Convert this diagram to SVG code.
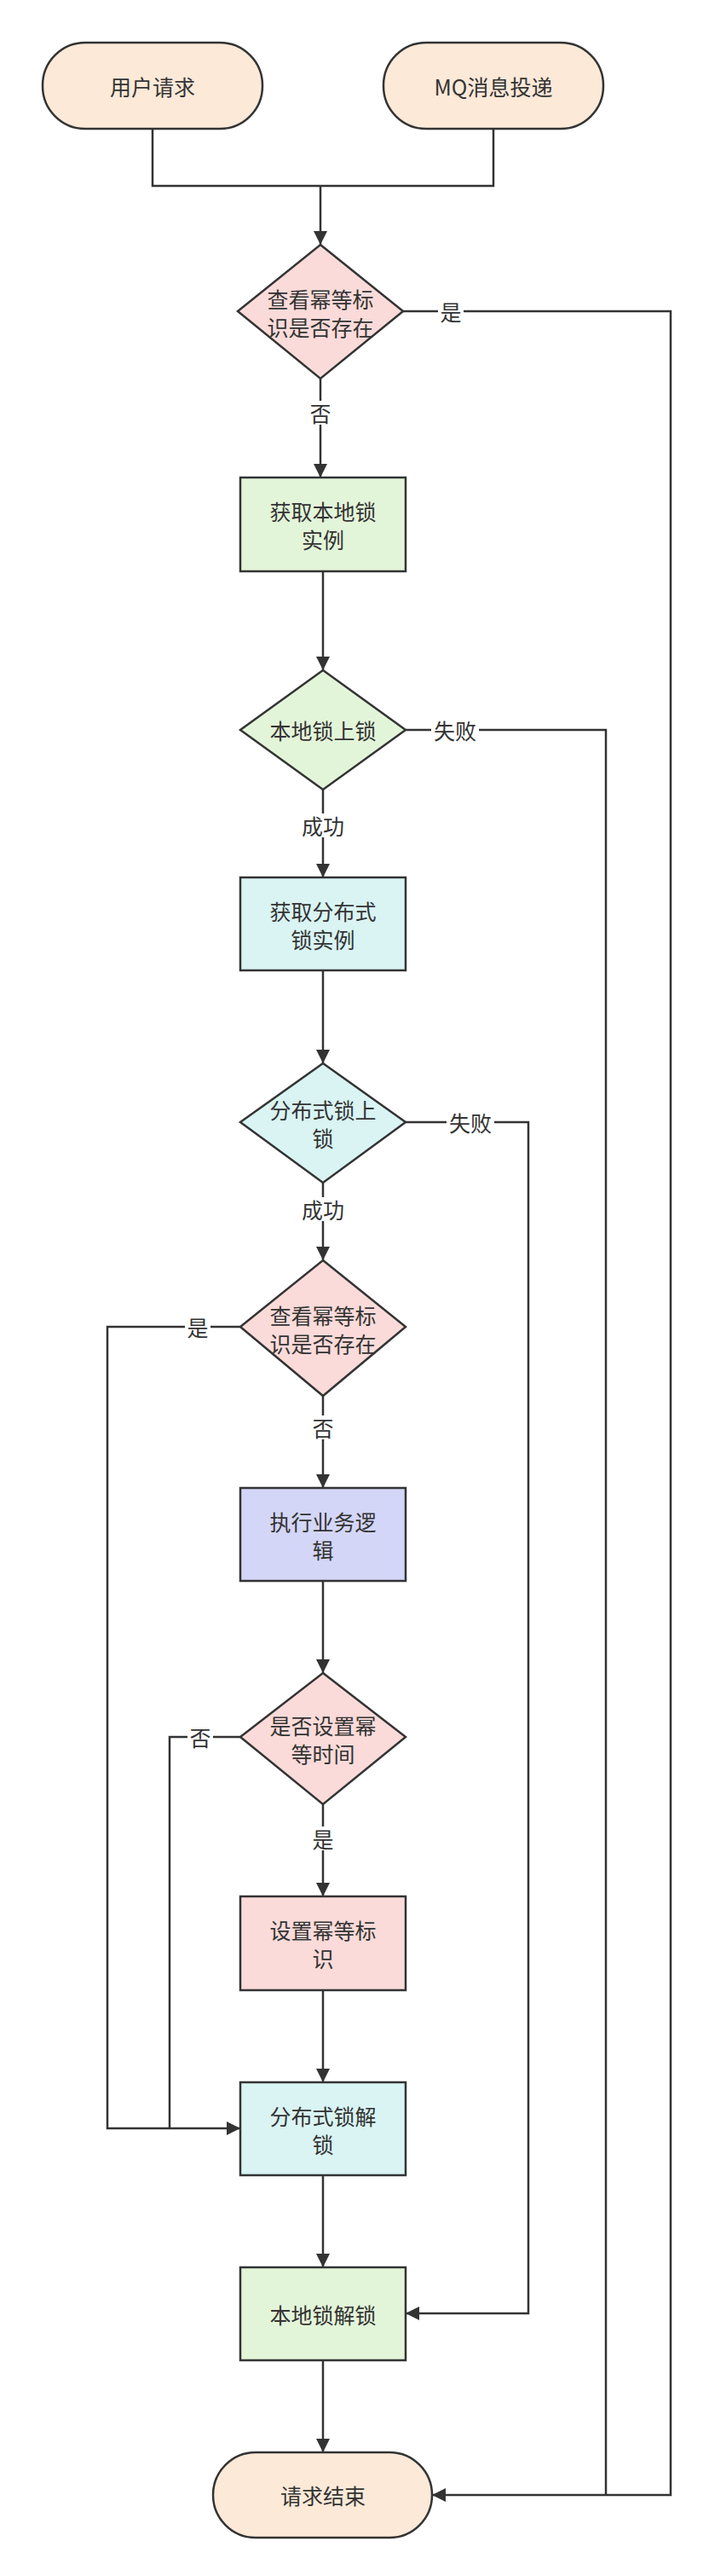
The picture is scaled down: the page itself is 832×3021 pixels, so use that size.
<svg xmlns="http://www.w3.org/2000/svg" width="832" height="3021" viewBox="0 0 832 3021">
<style>
.n{stroke:#333;stroke-width:2.5}
.t{font-family:"Noto Sans CJK SC","Liberation Sans",sans-serif;font-size:25px;fill:#333;text-anchor:middle;dominant-baseline:central}
.term{fill:#fce9d8}.pk{fill:#fadbd9}.gr{fill:#e3f5d9}.cy{fill:#d9f4f3}.pu{fill:#d3d6f7}
.c{fill:none;stroke:#333;stroke-width:2.5}
.lb{fill:#fff}
</style>
<defs><marker id="a" markerWidth="10" markerHeight="10" refX="9" refY="5" orient="auto" markerUnits="userSpaceOnUse"><path d="M0,0 L10,5 L0,10 Z" fill="#333" transform="scale(1.6) translate(-3.8,-1.9)"/></marker>
<marker id="ar" viewBox="0 0 16 16" markerWidth="16" markerHeight="16" refX="16" refY="8" orient="auto" markerUnits="userSpaceOnUse"><path d="M0,0 L16,8 L0,16 Z" fill="#333"/></marker></defs>
<g id="connectors">
<path class="c" d="M179,151 V218 H579 V151"/>
<path class="c" d="M376,218 V287" marker-end="url(#ar)"/>
<path class="c" d="M376,444 V560" marker-end="url(#ar)"/>
<path class="c" d="M472,365 H787 V2926 H507" marker-end="url(#ar)"/>
<path class="c" d="M379,670 V786" marker-end="url(#ar)"/>
<path class="c" d="M476,856 H711 V2926"/>
<path class="c" d="M379,926 V1029" marker-end="url(#ar)"/>
<path class="c" d="M379,1138 V1247" marker-end="url(#ar)"/>
<path class="c" d="M476,1316 H620 V2713 H476" marker-end="url(#ar)"/>
<path class="c" d="M379,1387 V1478" marker-end="url(#ar)"/>
<path class="c" d="M282,1556 H126 V2496 H282" marker-end="url(#ar)"/>
<path class="c" d="M379,1637 V1745" marker-end="url(#ar)"/>
<path class="c" d="M379,1854 V1962" marker-end="url(#ar)"/>
<path class="c" d="M282,2037 H199 V2496"/>
<path class="c" d="M379,2116 V2224" marker-end="url(#ar)"/>
<path class="c" d="M379,2334 V2442" marker-end="url(#ar)"/>
<path class="c" d="M379,2551 V2659" marker-end="url(#ar)"/>
<path class="c" d="M379,2768 V2876" marker-end="url(#ar)"/>
<rect class="lb" x="514" y="351" width="30" height="28"/><text class="t" x="529" y="365">是</text>
<rect class="lb" x="361" y="470" width="30" height="28"/><text class="t" x="376" y="484">否</text>
<rect class="lb" x="506" y="842" width="56" height="28"/><text class="t" x="534" y="856">失败</text>
<rect class="lb" x="351" y="954" width="56" height="28"/><text class="t" x="379" y="968">成功</text>
<rect class="lb" x="524" y="1302" width="56" height="28"/><text class="t" x="552" y="1316">失败</text>
<rect class="lb" x="351" y="1404" width="56" height="28"/><text class="t" x="379" y="1418">成功</text>
<rect class="lb" x="217" y="1542" width="30" height="28"/><text class="t" x="232" y="1556">是</text>
<rect class="lb" x="364" y="1660" width="30" height="28"/><text class="t" x="379" y="1674">否</text>
<rect class="lb" x="220" y="2023" width="30" height="28"/><text class="t" x="235" y="2037">否</text>
<rect class="lb" x="364" y="2142" width="30" height="28"/><text class="t" x="379" y="2156">是</text>
</g>
<g id="n1"><rect class="n term" x="50" y="50" width="258" height="101" rx="50"/><text class="t" x="179" y="101">用户请求</text></g>
<g id="n2"><rect class="n term" x="450" y="50" width="258" height="101" rx="50"/><text class="t" x="579" y="101">MQ消息投递</text></g>
<g id="n3"><polygon class="n pk" points="376,287 473,365 376,444 279,365"/><text class="t" x="376" y="350">查看幂等标</text><text class="t" x="376" y="383">识是否存在</text></g>
<g id="n4"><rect class="n gr" x="282" y="560" width="194" height="110"/><text class="t" x="379" y="599">获取本地锁</text><text class="t" x="379" y="632">实例</text></g>
<g id="n5"><polygon class="n gr" points="379,786 476,856 379,926 282,856"/><text class="t" x="379" y="856">本地锁上锁</text></g>
<g id="n6"><rect class="n cy" x="282" y="1029" width="194" height="109"/><text class="t" x="379" y="1068">获取分布式</text><text class="t" x="379" y="1101">锁实例</text></g>
<g id="n7"><polygon class="n cy" points="379,1247 476,1316 379,1387 282,1316"/><text class="t" x="379" y="1301">分布式锁上</text><text class="t" x="379" y="1334">锁</text></g>
<g id="n8"><polygon class="n pk" points="379,1478 476,1556 379,1637 282,1556"/><text class="t" x="379" y="1542">查看幂等标</text><text class="t" x="379" y="1575">识是否存在</text></g>
<g id="n9"><rect class="n pu" x="282" y="1745" width="194" height="109"/><text class="t" x="379" y="1784">执行业务逻</text><text class="t" x="379" y="1817">辑</text></g>
<g id="n10"><polygon class="n pk" points="379,1962 476,2037 379,2116 282,2037"/><text class="t" x="379" y="2023">是否设置幂</text><text class="t" x="379" y="2056">等时间</text></g>
<g id="n11"><rect class="n pk" x="282" y="2224" width="194" height="110"/><text class="t" x="379" y="2263">设置幂等标</text><text class="t" x="379" y="2296">识</text></g>
<g id="n12"><rect class="n cy" x="282" y="2442" width="194" height="109"/><text class="t" x="379" y="2481">分布式锁解</text><text class="t" x="379" y="2514">锁</text></g>
<g id="n13"><rect class="n gr" x="282" y="2659" width="194" height="109"/><text class="t" x="379" y="2714">本地锁解锁</text></g>
<g id="n14"><rect class="n term" x="250" y="2876" width="257" height="100" rx="50"/><text class="t" x="379" y="2926">请求结束</text></g>
</svg>
